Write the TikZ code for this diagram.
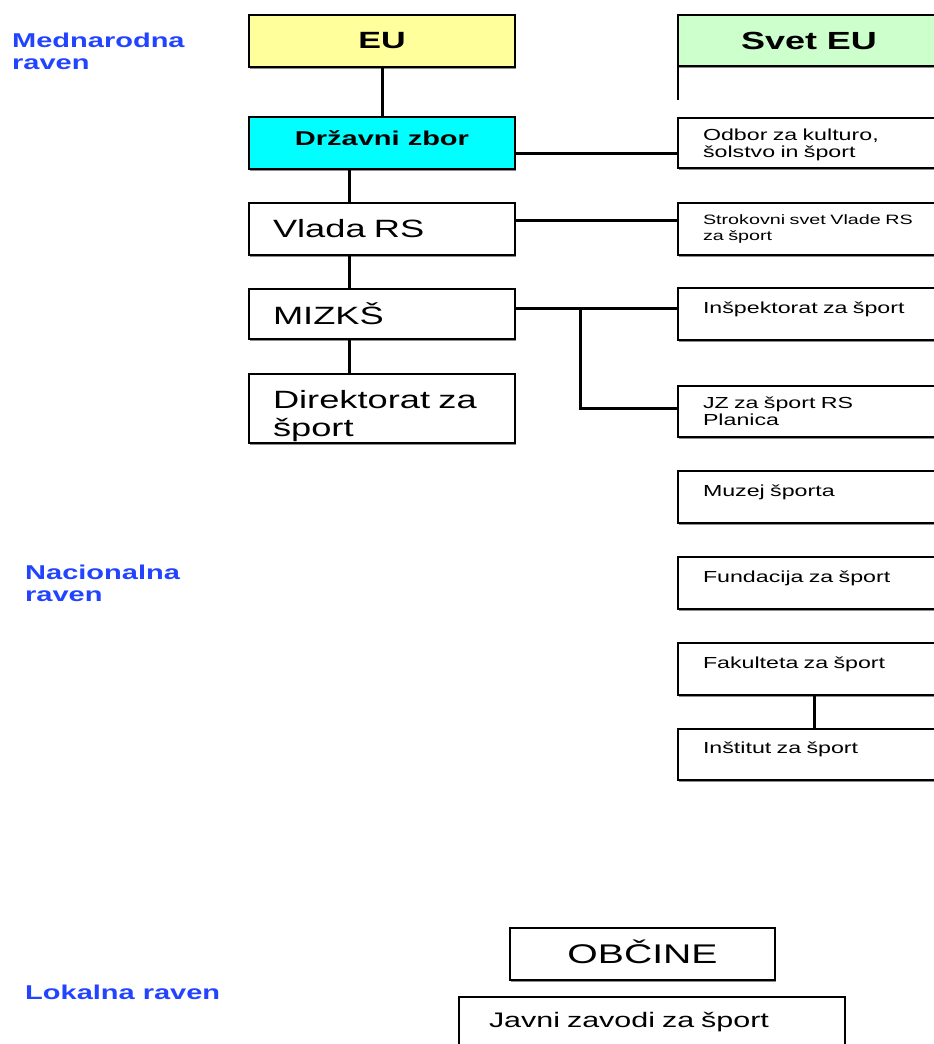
\documentclass[tikz,border=0pt]{standalone}
\usepackage{fontspec}
\setmainfont{Liberation Sans}[FakeStretch=1.45]
\usetikzlibrary{shadows}
\definecolor{euyellow}{HTML}{FFFF9C}
\definecolor{svetgreen}{HTML}{CCFFCC}
\definecolor{zborcyan}{HTML}{00FFFF}
\definecolor{lvlblue}{HTML}{2244FF}
\newcommand{\myfs}[2]{\fontsize{#1}{#2}\selectfont}
\tikzset{
  box/.style={draw=black, line width=2pt, fill=white, rectangle, anchor=north west,
    inner sep=0pt, outer sep=0pt,
    drop shadow={shadow xshift=1.2pt, shadow yshift=-1.5pt, fill=black!45, opacity=1}},
  leftbox/.style={box, minimum width=266pt, text width=218pt, align=left},
  rightbox/.style={box, minimum width=262pt, text width=212pt, align=left, font=\myfs{16}{17.5}},
  toptext/.style={text height=12pt, text depth=14pt},
  conn/.style={line width=3pt},
  lvl/.style={text=lvlblue, font=\bfseries\myfs{20}{22}, align=left, anchor=north west, inner sep=0pt},
}
\begin{document}
\begin{tikzpicture}[x=1pt, y=-1pt]
\useasboundingbox (0,0) rectangle (934,1044);
\clip (0,0) rectangle (934,1044);
\fill[white] (0,0) rectangle (934,1044);

% level labels
\node[lvl] (lm) at (12,33) {Mednarodna\\raven};
\node[lvl] (ln) at (25,565) {Nacionalna\\raven};
\node[lvl] (ll) at (25,985) {Lokalna raven};

% left column
\node[box, fill=euyellow, minimum width=266pt, minimum height=52pt, font=\bfseries\myfs{23.5}{26}] (eu) at (249,15) {EU};
\node[box, fill=zborcyan, minimum width=266pt, minimum height=52pt, font=\bfseries\myfs{20}{22},
      text height=15pt, text depth=10pt] (dz) at (249,117) {Državni zbor};
\node[leftbox, minimum height=52pt, font=\myfs{25}{29}] (vlada) at (249,203) {Vlada RS};
\node[leftbox, minimum height=50pt, font=\myfs{25}{29}] (mizks) at (249,289) {MIZKŠ};
\node[leftbox, minimum height=69pt, font=\myfs{25}{28}, text height=34pt] (dir) at (249,374) {Direktorat za\\šport};

% right column
\node[box, fill=svetgreen, minimum width=262pt, minimum height=51pt, font=\bfseries\myfs{24.8}{27}] (svet) at (678,15) {Svet EU};
\coordinate (svetend) at (678,100);
\draw[line width=2pt] (svet.south west) -- (svetend);

\node[rightbox, minimum height=50pt, text height=15pt] (odbor) at (678,118) {Odbor za kulturo,\\šolstvo in šport};
\node[rightbox, minimum height=52pt, font=\myfs{13.6}{16}] (strok) at (678,203) {Strokovni svet Vlade RS\\za šport};
\node[rightbox, toptext, minimum height=52pt] (insp) at (678,288) {Inšpektorat za šport};
\node[rightbox, minimum height=51pt, font=\myfs{16}{17}] (jz) at (678,386) {JZ za šport RS\\Planica};
\node[rightbox, toptext, minimum height=52pt] (muzej) at (678,471) {Muzej športa};
\node[rightbox, toptext, minimum height=52pt] (fund) at (678,557) {Fundacija za šport};
\node[rightbox, toptext, minimum height=52pt] (fak) at (678,643) {Fakulteta za šport};
\node[rightbox, toptext, minimum height=51pt] (inst) at (678,729) {Inštitut za šport};

% bottom
\node[box, minimum width=265pt, minimum height=52pt, font=\myfs{27}{30}, text depth=4pt] (obc) at (510,928) {OBČINE};
\node[box, minimum width=386pt, minimum height=70pt, text width=326pt, align=left,
      font=\myfs{21}{24}, text height=15pt, text depth=25pt] (javni) at (459,997) {Javni zavodi za šport};

% connectors
\draw[conn] (eu.south) -- (dz.north);
\draw[conn] ([xshift=-33pt]dz.south) -- ([xshift=-33pt]vlada.north);
\draw[conn] ([xshift=-33pt]vlada.south) -- ([xshift=-33pt]mizks.north);
\draw[conn] ([xshift=-33pt]mizks.south) -- ([xshift=-33pt]dir.north);

\coordinate (dzr) at ([yshift=-10pt]dz.east);
\draw[conn] (dzr) -- (dzr -| odbor.west);
\coordinate (vr) at ([yshift=9pt]vlada.east);
\draw[conn] (vr) -- (vr -| strok.west);
\coordinate (mr) at ([yshift=6pt]mizks.east);
\draw[conn] (mr) -- (mr -| insp.west);
\coordinate (bj) at (580,408);
\draw[conn] (mr -| bj) -- (bj) -- (bj -| jz.west);
\draw[conn] ([xshift=5pt]fak.south) -- ([xshift=5pt]inst.north);
\end{tikzpicture}
\end{document}
